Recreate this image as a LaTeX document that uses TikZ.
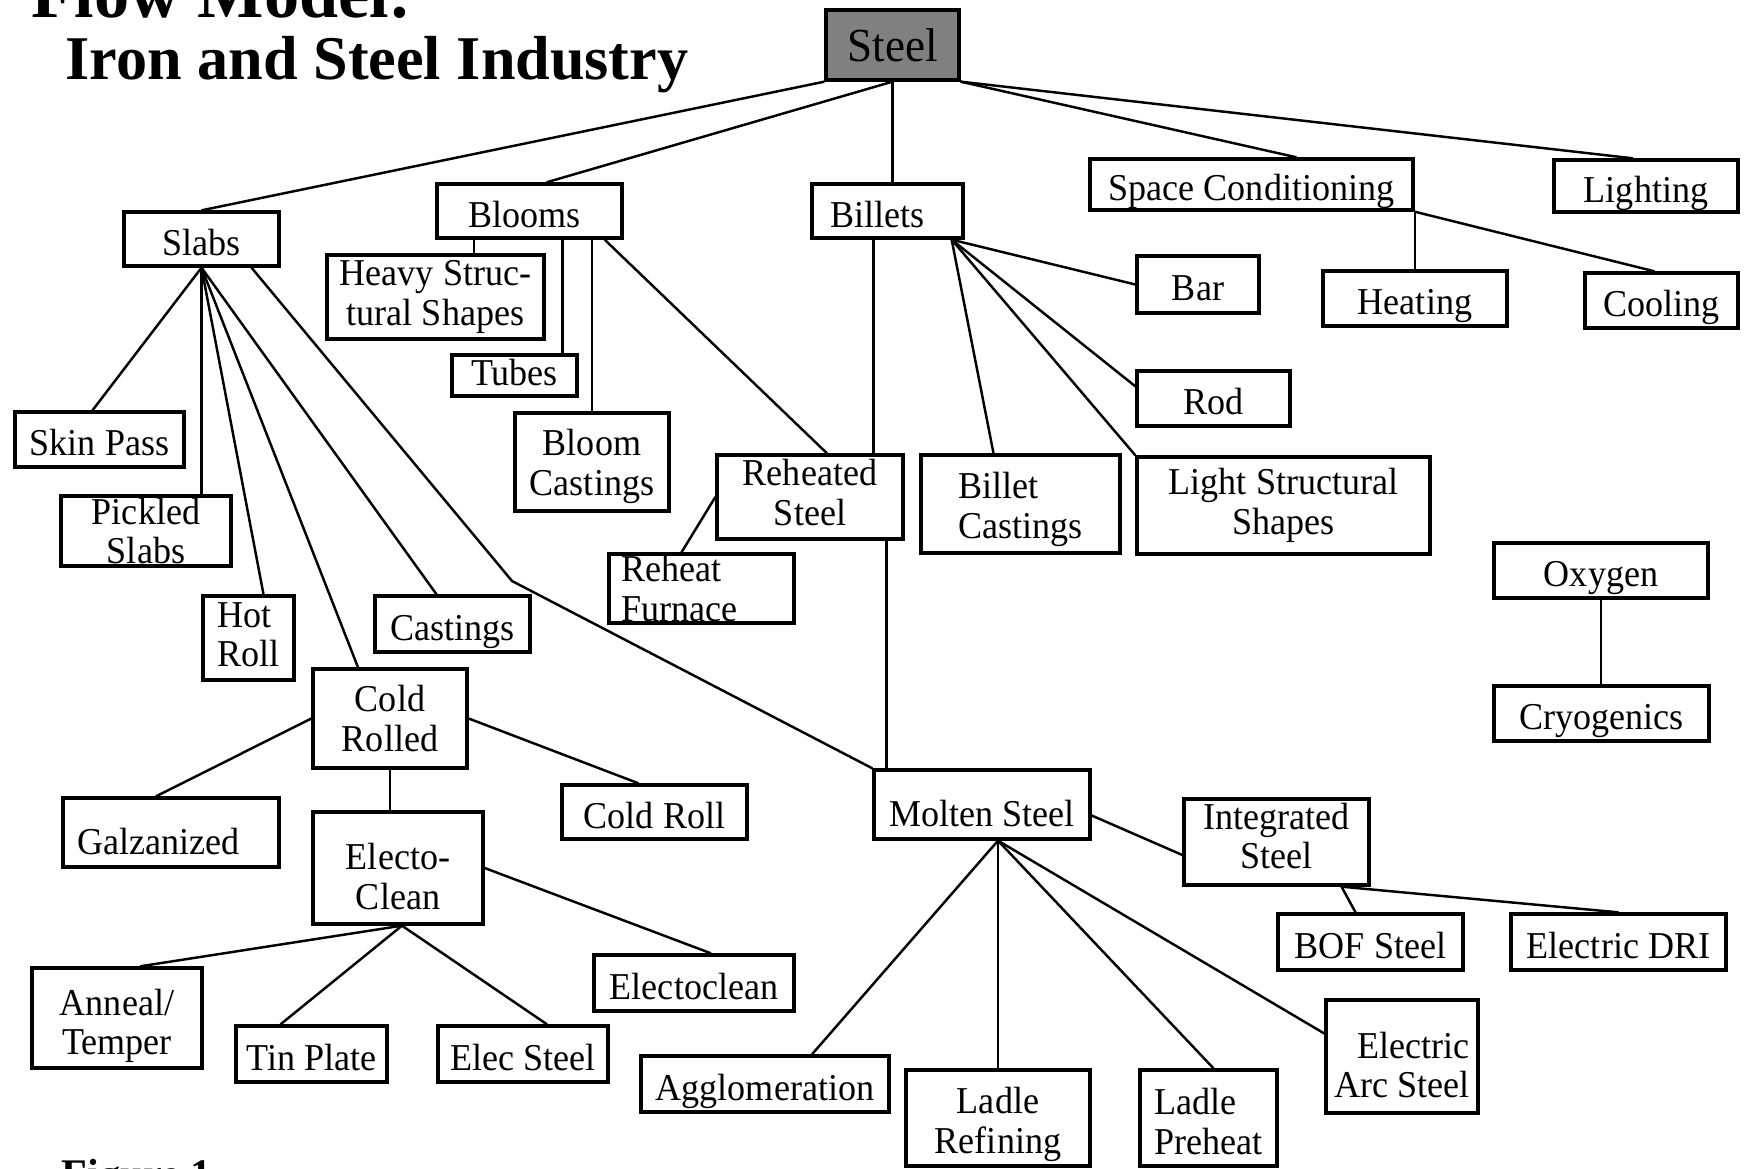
\documentclass[tikz,border=0pt]{standalone}
\usepackage{fontspec}
\setmainfont{Liberation Serif}[FakeStretch=0.95]
\newfontfamily\headfont{Liberation Serif}
\usetikzlibrary{positioning, calc}

\tikzset{
  box/.style={draw, line width=0.95pt, align=center, inner sep=1pt, font=\fontsize{10.8}{11.2}\selectfont},
  one/.style={box, text height=10pt, text depth=0.8pt},
  low/.style={box, text height=13.4pt, text depth=0.8pt},
  link/.style={line width=0.7pt},
  head/.style={inner sep=0pt, font=\headfont\bfseries}
}

\begin{document}
\begin{tikzpicture}
  \useasboundingbox (0,0) rectangle (17.52,-11.69);

  % Titles
  \node[head, anchor=base west, font=\headfont\bfseries\fontsize{20}{22}\selectfont] (title1) at (0.31,-0.17) {Flow Model:};
  \node[head, anchor=base west, font=\headfont\bfseries\fontsize{17.7}{20}\selectfont] (title2) at (0.65,-0.79) {Iron and Steel Industry};
  \node[head, anchor=base west, font=\headfont\bfseries\fontsize{12}{14}\selectfont] (figure) at (0.61,-11.88) {Figure 1};

  % Top level
  \node[one, fill=black!50, minimum width=1.33cm, minimum height=0.70cm, font=\fontsize{13.5}{14}\selectfont] (steel) at (8.925,-0.45) {Steel};

  \node[one, minimum width=1.55cm, minimum height=0.54cm] (slabs) at (2.015,-2.39) {Slabs};
  \node[one, minimum width=1.85cm, minimum height=0.54cm] (blooms) at (5.295,-2.11) {Blooms\hspace*{0.1cm}};
  \node[one, minimum width=1.51cm, minimum height=0.54cm] (billets) at (8.875,-2.11) {Billets\hspace*{0.2cm}};
  \node[one, minimum width=3.23cm, minimum height=0.51cm] (spacecond) at (12.515,-1.845) {Space Conditioning};
  \node[one, minimum width=1.84cm, minimum height=0.52cm] (lighting) at (16.46,-1.86) {Lighting};

  \draw[link] (steel.south west) -- (slabs.north);
  \draw[link] (steel.south) -- ([xshift=0.17cm]blooms.north);
  \draw[link] (steel.south) -- (steel.south |- billets.north);
  \draw[link] (steel.south east) -- ([xshift=0.45cm]spacecond.north);
  \draw[link] (steel.south east) -- ([xshift=-0.13cm]lighting.north);

  % Space conditioning
  \node[one, minimum width=1.84cm, minimum height=0.55cm] (heating) at (14.15,-2.985) {Heating};
  \node[one, minimum width=1.53cm, minimum height=0.55cm] (cooling) at (16.615,-3.005) {Cooling};

  \draw[link] (heating.north |- spacecond.south) -- (heating.north);
  \draw[link] (spacecond.south east) -- ([xshift=-0.07cm]cooling.north);

  % Blooms
  \node[box, minimum width=2.17cm, minimum height=0.84cm] (heavy) at (4.355,-2.97) {Heavy Struc-\\tural Shapes};
  \node[box, minimum width=1.25cm, minimum height=0.41cm, inner ysep=0pt, text depth=2pt] (tubes) at (5.145,-3.755) {Tubes};
  \node[box, minimum width=1.54cm, minimum height=0.98cm, text height=21.2pt] (bloomcast) at (5.92,-4.62) {Bloom\\Castings};
  \node[box, minimum width=1.86cm, minimum height=0.84cm, text depth=2.6pt] (reheated) at (8.10,-4.97) {Reheated\\Steel};
  \node[box, minimum width=1.85cm, minimum height=0.69cm, inner ysep=0pt, align=left] (furnace) at (7.015,-5.885) {Reheat\hspace*{0.6cm}\\Furnace};

  \coordinate (heavyup) at ([xshift=0.385cm]heavy.north);
  \coordinate (tubesup) at ([xshift=-0.16cm]tubes.north east);
  \draw[link] (heavyup |- blooms.south) -- (heavyup);
  \draw[link] (tubesup |- blooms.south) -- (tubesup);
  \draw[link] (bloomcast.north |- blooms.south) -- (bloomcast.north);
  \draw[link] ([xshift=-0.19cm]blooms.south east) -- ([xshift=0.17cm]reheated.north);
  \draw[link] (reheated.west) -- ([xshift=-0.2cm]furnace.north);

  % Billets
  \node[one, minimum width=1.22cm, minimum height=0.57cm] (bar) at (11.98,-2.845) {Bar};
  \node[one, minimum width=1.53cm, minimum height=0.55cm] (rod) at (12.135,-3.985) {Rod};
  \node[box, minimum width=1.99cm, minimum height=0.98cm, align=left, text height=21.8pt] (billetcast) at (10.205,-5.04) {Billet\\Castings};
  \node[box, minimum width=2.93cm, minimum height=0.97cm] (lightstruct) at (12.835,-5.055) {Light Structural\\Shapes};

  \coordinate (billetsfan) at ([xshift=-0.13cm]billets.south east);
  \coordinate (billetsdown) at ([xshift=-0.14cm]billets.south);
  \draw[link] (billetsfan) -- (bar.west);
  \draw[link] (billetsfan) -- ([yshift=-0.17cm]rod.north west);
  \draw[link] (billetsfan) -- (lightstruct.north west);
  \draw[link] (billetsfan) -- ([xshift=-0.27cm]billetcast.north);
  \draw[link] (billetsdown) -- (billetsdown |- reheated.north);

  % Slabs
  \node[one, minimum width=1.69cm, minimum height=0.55cm] (skinpass) at (0.995,-4.395) {Skin Pass};
  \node[box, minimum width=1.70cm, minimum height=0.70cm, inner ysep=0pt] (pickled) at (1.46,-5.31) {Pickled\\Slabs};
  \node[box, minimum width=0.91cm, minimum height=0.84cm, align=left, text depth=2pt] (hotroll) at (2.485,-6.38) {Hot\\Roll};
  \node[one, minimum width=1.55cm, minimum height=0.56cm] (castings) at (4.525,-6.24) {Castings};
  \node[box, minimum width=1.54cm, minimum height=0.99cm] (coldrolled) at (3.90,-7.185) {Cold\\Rolled};

  \coordinate (slabsbend) at (5.12,-5.81);
  \draw[link] (slabs.south) -- ([xshift=-0.07cm]skinpass.north);
  \draw[link] (slabs.south) -- (slabs.south |- pickled.north);
  \draw[link] (slabs.south) -- ([xshift=0.15cm]hotroll.north);
  \draw[link] (slabs.south) -- ([xshift=-0.32cm]coldrolled.north);
  \draw[link] (slabs.south) -- ([xshift=-0.16cm]castings.north);

  % Cold rolled
  \node[low, minimum width=2.16cm, minimum height=0.69cm] (galz) at (1.71,-8.325) {Galzanized\hspace*{0.25cm}};
  \node[one, minimum width=1.85cm, minimum height=0.54cm] (coldroll) at (6.545,-8.12) {Cold Roll};
  \node[box, minimum width=1.70cm, minimum height=1.12cm, text height=23.6pt] (electo) at (3.98,-8.68) {Electo-\\Clean};
  \node[box, minimum width=1.70cm, minimum height=1.00cm, text height=23pt] (anneal) at (1.17,-10.18) {Anneal/\\Temper};
  \node[one, minimum width=2.00cm, minimum height=0.56cm] (eclean) at (6.94,-9.83) {Electoclean};
  \node[one, minimum width=1.51cm, minimum height=0.56cm] (tinplate) at (3.115,-10.54) {Tin Plate};
  \node[one, minimum width=1.70cm, minimum height=0.56cm] (elecsteel) at (5.23,-10.54) {Elec Steel};

  \draw[link] (coldrolled.west) -- ([xshift=-0.15cm]galz.north);
  \draw[link] (coldrolled.east) -- ([xshift=-0.16cm]coldroll.north);
  \draw[link] (coldrolled.south) -- (coldrolled.south |- electo.north);
  \draw[link] (electo.east) -- ([xshift=0.17cm]eclean.north);
  \draw[link] ([xshift=0.04cm]electo.south) -- ([xshift=0.23cm]anneal.north);
  \draw[link] ([xshift=0.04cm]electo.south) -- ([xshift=-0.31cm]tinplate.north);
  \draw[link] ([xshift=0.04cm]electo.south) -- ([xshift=0.24cm]elecsteel.north);

  % Molten steel
  \node[low, minimum width=2.16cm, minimum height=0.69cm] (molten) at (9.82,-8.045) {Molten Steel};
  \node[box, minimum width=1.85cm, minimum height=0.86cm, inner ysep=0pt, text depth=3.6pt] (integrated) at (12.765,-8.42) {Integrated\\Steel};
  \node[one, minimum width=1.85cm, minimum height=0.56cm] (bof) at (13.705,-9.42) {BOF Steel};
  \node[one, minimum width=2.15cm, minimum height=0.56cm] (dri) at (16.185,-9.42) {Electric DRI};
  \node[box, minimum width=1.52cm, minimum height=1.13cm, align=right, text height=23.6pt] (arcsteel) at (14.02,-10.565) {Electric\\Arc Steel};
  \node[one, minimum width=2.48cm, minimum height=0.56cm] (agglom) at (7.65,-10.84) {Agglomeration};
  \node[box, minimum width=1.84cm, minimum height=0.96cm, inner ysep=0.5pt, text height=22.4pt] (ladleref) at (9.98,-11.18) {Ladle\\Refining};
  \node[box, minimum width=1.37cm, minimum height=0.96cm, align=left, text height=20.6pt] (ladlepre) at (12.085,-11.18) {Ladle\\Preheat};

  \coordinate (moltenup) at ([xshift=0.14cm]molten.north west);
  \coordinate (moltenfan) at ([xshift=0.16cm]molten.south);
  \draw[link] (moltenup |- reheated.south) -- (moltenup);
  \draw[link] ([xshift=0.5cm]slabs.south) -- (slabsbend) -- (molten.north west);
  \draw[link] ([yshift=-0.11cm]molten.east) -- ([yshift=-0.13cm]integrated.west);
  \draw[link] ([xshift=0.65cm]integrated.south) -- ([xshift=-0.15cm]bof.north);
  \draw[link] ([xshift=0.65cm]integrated.south) -- (dri.north);
  \draw[link] (moltenfan) -- ([xshift=0.47cm]agglom.north);
  \draw[link] (moltenfan) -- (moltenfan |- ladleref.north);
  \draw[link] (moltenfan) -- ([xshift=0.05cm]ladlepre.north);
  \draw[link] (moltenfan) -- ([yshift=0.23cm]arcsteel.west);

  % Oxygen
  \node[one, minimum width=2.14cm, minimum height=0.55cm] (oxygen) at (16.01,-5.705) {Oxygen};
  \node[one, minimum width=2.15cm, minimum height=0.55cm] (cryo) at (16.015,-7.135) {Cryogenics};

  \draw[link] (oxygen.south) -- (oxygen.south |- cryo.north);
\end{tikzpicture}
\end{document}
